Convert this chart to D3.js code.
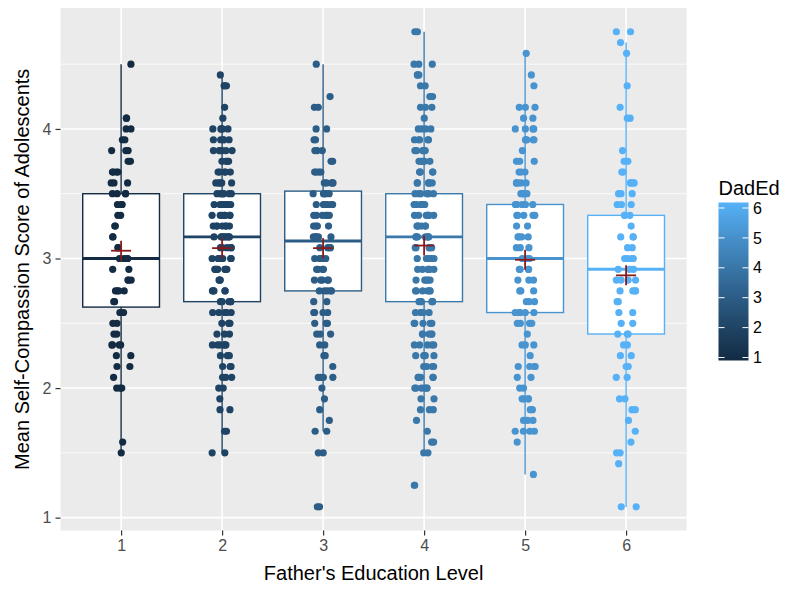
<!DOCTYPE html>
<html>
<head>
<meta charset="utf-8">
<script src="https://cdn.jsdelivr.net/npm/d3@7"></script>
<style>
  body { margin: 0; background: #fff; }
  text { font-family: "Liberation Sans", Arial, sans-serif; }
</style>
</head>
<body>
<svg id="chart" width="785" height="589"></svg>
<script>
// father's education levels (x categories)
const dadEd = [1, 2, 3, 4, 5, 6]

// [sum of the 12 item scores, number of adolescents]; mean score = sum / 12
const ed1 = [[54,1],[49,2],[48,2],[47,2],[46,3],[45,2],[44,4],[43,3],[42,4],[41,3],[40,2],[39,2],[38,2],[37,2],[36,4],[35,2],[34,3],[33,4],[32,2],[31,2],[30,2],[29,2],[28,4],[27,2],[26,2],[25,1],[24,3],[19,1],[18,1]]
const ed2 = [[53,1],[52,3],[50,1],[49,1],[48,5],[47,5],[46,6],[45,4],[44,5],[43,5],[42,7],[41,7],[40,7],[39,7],[38,8],[37,5],[36,6],[35,7],[34,3],[33,5],[32,5],[31,6],[30,4],[29,3],[28,6],[27,3],[26,3],[25,3],[24,2],[23,1],[22,2],[20,2],[18,2]]
const ed3 = [[54,1],[51,1],[50,2],[48,2],[47,2],[46,3],[45,2],[44,4],[43,5],[42,5],[41,6],[40,6],[39,4],[38,5],[37,4],[36,5],[35,4],[34,5],[33,5],[32,2],[31,4],[30,3],[29,3],[28,2],[27,2],[26,1],[25,4],[24,1],[23,1],[22,1],[21,1],[20,2],[18,2],[13,2]]
const ed4 = [[57,2],[54,3],[53,3],[52,2],[51,2],[50,3],[49,1],[48,4],[47,5],[46,5],[45,5],[44,5],[43,6],[42,6],[41,6],[40,7],[39,6],[38,7],[37,5],[36,6],[35,6],[34,5],[33,6],[32,6],[31,5],[30,5],[29,5],[28,5],[27,5],[26,4],[25,5],[24,6],[23,2],[22,3],[21,1],[20,1],[19,2],[18,2],[15,2]]
const ed5 = [[55,1],[53,1],[52,1],[50,3],[49,2],[48,4],[47,5],[46,1],[45,3],[44,3],[43,5],[42,4],[41,5],[40,5],[39,2],[38,4],[37,3],[36,3],[35,4],[34,3],[33,3],[32,3],[31,5],[30,4],[29,1],[28,3],[27,1],[26,4],[25,2],[24,2],[23,4],[22,2],[21,3],[20,4],[19,1],[16,1]]
const ed6 = [[57,2],[56,1],[55,1],[52,1],[50,1],[49,2],[46,1],[45,2],[44,2],[43,4],[42,3],[41,3],[40,3],[39,1],[38,3],[37,2],[36,4],[35,3],[34,4],[33,4],[32,2],[31,2],[30,2],[29,3],[28,2],[27,2],[26,2],[25,2],[23,2],[22,2],[21,1],[20,1],[19,1],[18,2],[17,1],[13,2]]

// box summaries as drawn
const boxQ1 = [2.625, 2.667, 2.75, 2.667, 2.583, 2.417]
const boxMedian = [3.0, 3.167, 3.135, 3.167, 3.0, 2.917]
const boxQ3 = [3.5, 3.5, 3.52, 3.5, 3.417, 3.333]
const whiskerLow = [1.5, 1.5, 1.667, 1.5, 1.333, 1.083]
const whiskerHigh = [4.5, 4.417, 4.5, 4.75, 4.583, 4.667]
const groupMean = [3.06, 3.08, 3.08, 3.10, 2.99, 2.87]

const yTicks = [1, 2, 3, 4]
const yMinor = [1.5, 2.5, 3.5, 4.5]
const legendTicks = [1, 2, 3, 4, 5, 6]

const groups = [ed1, ed2, ed3, ed4, ed5, ed6]

const W = 785, H = 589
const margin = { top: 8, right: 98.3, bottom: 58.4, left: 60.5 }
const width = W - margin.left - margin.right
const height = H - margin.top - margin.bottom

const svg = d3.select("#chart")
const g = svg.append("g").attr("transform", `translate(${margin.left},${margin.top})`)

// points, one per adolescent
const jitter = d3.randomUniform.source(d3.randomLcg(0.31))(-0.1, 0.1)
const points = []
groups.forEach((grp, i) => {
    grp.forEach(([sum, n]) => {
        for (let j = 0; j < n; j++) {
            points.push({ ed: dadEd[i], score: sum / 12, dx: jitter() })
        }
    })
})

const x = d3.scalePoint().domain(dadEd).range([0, width]).padding(0.6)
const step = x.step()
const [lo, hi] = d3.extent(points, d => d.score)
const pad = (hi - lo) * 0.05
const y = d3.scaleLinear().domain([lo - pad, hi + pad]).range([height, 0])
const color = d3.scaleLinear().domain([1, 6]).range(["#132B43", "#56B1F7"]).interpolate(d3.interpolateLab)

/* PANEL */
g.append("rect").attr("width", width).attr("height", height).attr("fill", "#EBEBEB")

g.selectAll(".minor").data(yMinor).join("line")
    .attr("x1", 0).attr("x2", width)
    .attr("y1", d => y(d)).attr("y2", d => y(d))
    .attr("stroke", "#fff").attr("stroke-width", 0.8)

g.selectAll(".hmajor").data(yTicks).join("line")
    .attr("x1", 0).attr("x2", width)
    .attr("y1", d => y(d)).attr("y2", d => y(d))
    .attr("stroke", "#fff").attr("stroke-width", 1.6)

g.selectAll(".vmajor").data(dadEd).join("line")
    .attr("x1", d => x(d)).attr("x2", d => x(d))
    .attr("y1", 0).attr("y2", height)
    .attr("stroke", "#fff").attr("stroke-width", 1.6)

/* BOXES */
const half = step * 0.38
const boxes = g.selectAll(".box").data(dadEd).join("g")
boxes.append("line")
    .attr("x1", d => x(d)).attr("x2", d => x(d))
    .attr("y1", (d, i) => y(whiskerHigh[i])).attr("y2", (d, i) => y(boxQ3[i]))
    .attr("stroke", d => color(d)).attr("stroke-width", 1.4)
boxes.append("line")
    .attr("x1", d => x(d)).attr("x2", d => x(d))
    .attr("y1", (d, i) => y(boxQ1[i])).attr("y2", (d, i) => y(whiskerLow[i]))
    .attr("stroke", d => color(d)).attr("stroke-width", 1.4)
boxes.append("rect")
    .attr("x", d => x(d) - half).attr("width", half * 2)
    .attr("y", (d, i) => y(boxQ3[i]))
    .attr("height", (d, i) => y(boxQ1[i]) - y(boxQ3[i]))
    .attr("fill", "#fff").attr("stroke", d => color(d)).attr("stroke-width", 1.4)
boxes.append("line")
    .attr("x1", d => x(d) - half).attr("x2", d => x(d) + half)
    .attr("y1", (d, i) => y(boxMedian[i])).attr("y2", (d, i) => y(boxMedian[i]))
    .attr("stroke", d => color(d)).attr("stroke-width", 2.8)

/* JITTERED POINTS */
g.selectAll(".pt").data(points).join("circle")
    .attr("cx", d => x(d.ed) + d.dx * step)
    .attr("cy", d => y(d.score))
    .attr("r", 3.6)
    .attr("fill", d => color(d.ed))

/* MEANS */
const arm = 10
const means = g.selectAll(".mean").data(dadEd).join("g")
    .attr("transform", (d, i) => `translate(${x(d)},${y(groupMean[i])})`)
    .attr("stroke", "#8B1A1A").attr("stroke-width", 1.8)
means.append("line").attr("x1", -arm).attr("x2", arm)
means.append("line").attr("y1", -arm).attr("y2", arm)

/* AXES */
const yAxis = g.append("g")
    .call(d3.axisLeft(y).tickValues(yTicks).tickSize(5).tickPadding(4).tickFormat(d3.format("d")))
yAxis.select(".domain").remove()
yAxis.selectAll("line").attr("stroke", "#333").attr("stroke-width", 1.2)
yAxis.selectAll("text").attr("fill", "#4D4D4D").style("font-size", "16px").attr("font-family", null)

const xAxis = g.append("g").attr("transform", `translate(0,${height})`)
    .call(d3.axisBottom(x).tickSize(5).tickPadding(4))
xAxis.select(".domain").remove()
xAxis.selectAll("line").attr("stroke", "#333").attr("stroke-width", 1.2)
xAxis.selectAll("text").attr("fill", "#4D4D4D").style("font-size", "16px").attr("font-family", null)

svg.append("text")
    .attr("x", margin.left + width / 2).attr("y", 580)
    .attr("text-anchor", "middle").style("font-size", "20px").attr("fill", "#000")
    .text("Father's Education Level")

svg.append("text")
    .attr("transform", `translate(29,${margin.top + height / 2}) rotate(-90)`)
    .attr("text-anchor", "middle").style("font-size", "20px").attr("fill", "#000")
    .text("Mean Self-Compassion Score of Adolescents")

/* LEGEND */
const legX = 718.5, barTop = 202.5, barBottom = 360.5, barW = 30
const legY = d3.scaleLinear().domain([1, 6]).range([357.5, 208])

const grad = svg.append("defs").append("linearGradient")
    .attr("id", "dadEdGrad").attr("x1", 0).attr("x2", 0).attr("y1", 1).attr("y2", 0)
grad.selectAll("stop").data(d3.range(0, 1.0001, 0.05)).join("stop")
    .attr("offset", d => d)
    .attr("stop-color", d => color(1 + d * 5))

svg.append("text")
    .attr("x", legX).attr("y", 195)
    .style("font-size", "20px").attr("fill", "#000")
    .text("DadEd")

svg.append("rect")
    .attr("x", legX).attr("y", barTop).attr("width", barW).attr("height", barBottom - barTop)
    .attr("fill", "url(#dadEdGrad)")

const lt = svg.selectAll(".legtick").data(legendTicks).join("g")
lt.append("line").attr("x1", legX).attr("x2", legX + 6)
    .attr("y1", d => legY(d)).attr("y2", d => legY(d))
    .attr("stroke", "#fff").attr("stroke-width", 1)
lt.append("line").attr("x1", legX + barW - 6).attr("x2", legX + barW)
    .attr("y1", d => legY(d)).attr("y2", d => legY(d))
    .attr("stroke", "#fff").attr("stroke-width", 1)
lt.append("text")
    .attr("x", legX + barW + 4.5).attr("y", d => legY(d)).attr("dy", "0.35em")
    .style("font-size", "16px").attr("fill", "#000")
    .text(d => d)
</script>
</body>
</html>
